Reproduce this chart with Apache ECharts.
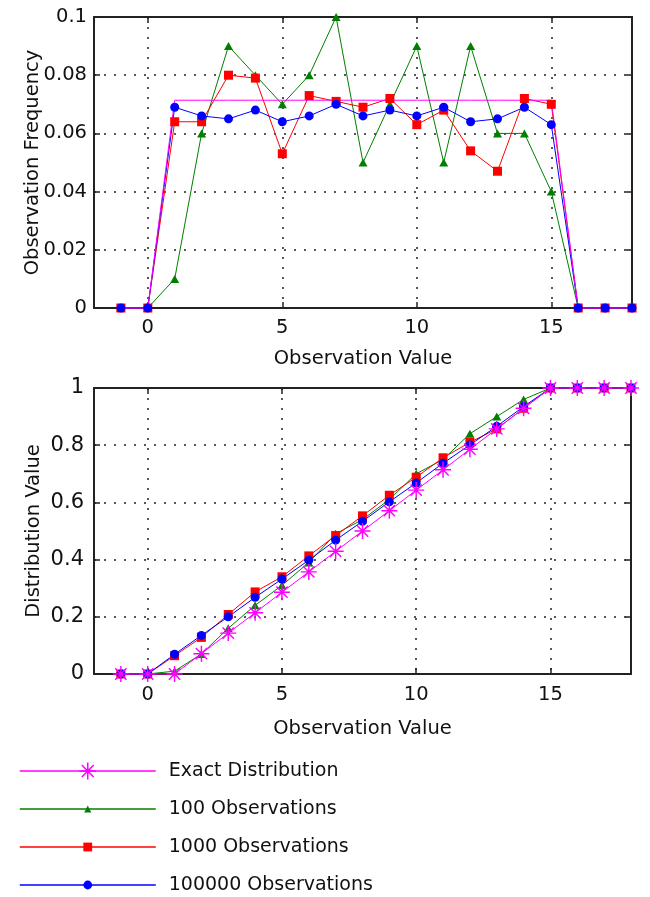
<!DOCTYPE html>
<html><head><meta charset="utf-8">
<script src="https://cdn.jsdelivr.net/npm/echarts@6/dist/echarts.min.js"></script>
<style>html,body{margin:0;padding:0;background:#fff}#c{width:650px;height:897px}</style>
</head><body><div id="c"></div>
<script>
// ---- data ----
const xValues = [-1,0,1,2,3,4,5,6,7,8,9,10,11,12,13,14,15,16,17,18];
const xTickValues = [0,5,10,15];
const seriesNames = ['Exact Distribution','100 Observations','1000 Observations','100000 Observations'];

const freqExact  = [0,0,0.0714,0.0714,0.0714,0.0714,0.0714,0.0714,0.0714,0.0714,0.0714,0.0714,0.0714,0.0714,0.0714,0.0714,0.0714,0,0,0];
const freq100    = [0,0,0.01,0.06,0.09,0.08,0.07,0.08,0.10,0.05,0.07,0.09,0.05,0.09,0.06,0.06,0.04,0,0,0];
const freq1000   = [0,0,0.064,0.064,0.080,0.079,0.053,0.073,0.071,0.069,0.072,0.063,0.068,0.054,0.047,0.072,0.070,0,0,0];
const freq100000 = [0,0,0.069,0.066,0.065,0.068,0.064,0.066,0.070,0.066,0.068,0.066,0.069,0.064,0.065,0.069,0.063,0,0,0];

const cdfExact  = [0,0,0,0.071,0.143,0.214,0.286,0.357,0.429,0.5,0.571,0.643,0.714,0.786,0.857,0.929,1,1,1,1];
const cdf100    = [0,0,0.01,0.07,0.16,0.24,0.31,0.39,0.49,0.54,0.61,0.70,0.75,0.84,0.90,0.96,1,1,1,1];
const cdf1000   = [0,0,0.064,0.128,0.208,0.287,0.340,0.413,0.484,0.553,0.625,0.688,0.756,0.810,0.857,0.929,1,1,1,1];
const cdf100000 = [0,0,0.069,0.135,0.200,0.268,0.332,0.398,0.468,0.534,0.602,0.668,0.737,0.801,0.866,0.935,1,1,1,1];

// ---- styling ----
const FONT = 'DejaVu Sans';
const TXT = '#111';
const FRAME = {show:true, onZero:false, lineStyle:{color:'#222', width:2}};
const GRIDLINE = {show:true, lineStyle:{color:'#222', width:1.5, type:[2,8]}};
const STAR = 'path://M9.1 0H10.9V20H9.1Z M0 9.1H20V10.9H0Z M2.29 3.57L3.57 2.29L17.71 16.43L16.43 17.71Z M16.43 2.29L17.71 3.57L3.57 17.71L2.29 16.43Z';
const COLORS = {exact:'#FF00FF', o100:'#008000', o1000:'#FF0000', o100000:'#0000FF'};

function pairs(arr){ return xValues.map((x,i)=>[x, arr[i]]); }

function xAxisPair(gridIndex, name, nameGap, labelMargin, fontSize){
  return [
    {type:'value', gridIndex, position:'bottom', min:-2, max:18,
     name, nameLocation:'middle', nameGap, nameMoveOverlap:false,
     nameTextStyle:{fontFamily:FONT, fontSize:19.5, color:TXT},
     axisLine:FRAME,
     axisTick:{show:true, inside:true, length:6, customValues:xTickValues, lineStyle:{color:'#222', width:1.5}},
     axisLabel:{show:true, customValues:xTickValues, margin:labelMargin, fontFamily:FONT, fontSize, color:TXT},
     splitLine:GRIDLINE},
    {type:'value', gridIndex, position:'top', min:-2, max:18,
     axisLine:FRAME,
     axisTick:{show:true, inside:true, length:6, customValues:xTickValues, lineStyle:{color:'#222', width:1.5}},
     axisLabel:{show:false}, splitLine:{show:false}}
  ];
}
function yAxisPair(gridIndex, name, nameGap, max, interval, labelMargin, fontSize){
  return [
    {type:'value', gridIndex, position:'left', min:0, max, interval,
     name, nameLocation:'middle', nameGap, nameMoveOverlap:false,
     nameTextStyle:{fontFamily:FONT, fontSize:19.5, color:TXT},
     axisLine:FRAME,
     axisTick:{show:true, inside:true, length:6, lineStyle:{color:'#222', width:1.5}},
     axisLabel:{show:true, margin:labelMargin, fontFamily:FONT, fontSize, color:TXT},
     splitLine:GRIDLINE},
    {type:'value', gridIndex, position:'right', min:0, max, interval,
     axisLine:FRAME,
     axisTick:{show:true, inside:true, length:6, lineStyle:{color:'#222', width:1.5}},
     axisLabel:{show:false}, splitLine:{show:false}}
  ];
}

function lineSeries(name, arr, color, symbol, size, xi, yi){
  return {type:'line', name, data:pairs(arr), xAxisIndex:xi, yAxisIndex:yi,
    symbol, symbolSize:size, showSymbol: symbol !== 'none', clip:false,
    lineStyle:{color, width:1}, itemStyle:{color, borderWidth:0},
    emphasis:{disabled:true}, silent:true};
}

const series = [
  // bottom chart (listed first so the legend takes its markers)
  lineSeries(seriesNames[1], cdf100,    COLORS.o100,    'triangle', [9,8], 2, 2),
  lineSeries(seriesNames[2], cdf1000,   COLORS.o1000,   'rect',     9,     2, 2),
  lineSeries(seriesNames[3], cdf100000, COLORS.o100000, 'circle',   9,     2, 2),
  lineSeries(seriesNames[0], cdfExact,  COLORS.exact,   STAR,       16,    2, 2),
  // top chart
  lineSeries(seriesNames[1], freq100,    COLORS.o100,    'triangle', [9,8], 0, 0),
  lineSeries(seriesNames[2], freq1000,   COLORS.o1000,   'rect',     9,     0, 0),
  lineSeries(seriesNames[3], freq100000, COLORS.o100000, 'circle',   9,     0, 0),
  lineSeries(seriesNames[0], freqExact,  COLORS.exact,   'none',     0,     0, 0)
];

const legendIconHeights = [21, 9, 11, 11];
const legendRowCenters = [771, 809, 847, 885];
const legend = seriesNames.map((n,i)=>({
  data:[n], orient:'vertical', left:19, top:legendRowCenters[i]-11, padding:0,
  itemWidth:136, itemHeight:legendIconHeights[i], selectedMode:false,
  lineStyle:{width:1.5},
  textStyle:{fontFamily:FONT, fontSize:19, color:TXT, lineHeight:22, padding:[0,0,0,8]}
}));

const option = {
  animation:false,
  backgroundColor:'#fff',
  grid:[{left:94, top:17, width:538, height:291}, {left:94, top:388, width:537, height:286}],
  xAxis:[...xAxisPair(0,'Observation Value',41,9.5,19.5), ...xAxisPair(1,'Observation Value',45,10.5,19.5)],
  yAxis:[...yAxisPair(0,'Observation Frequency',51,0.1,0.02,7,19.5), ...yAxisPair(1,'Distribution Value',50,1,0.2,10,21)],
  legend,
  series
};
const chart = echarts.init(document.getElementById('c'), null, {renderer:'canvas'});
chart.setOption(option);
</script></body></html>
